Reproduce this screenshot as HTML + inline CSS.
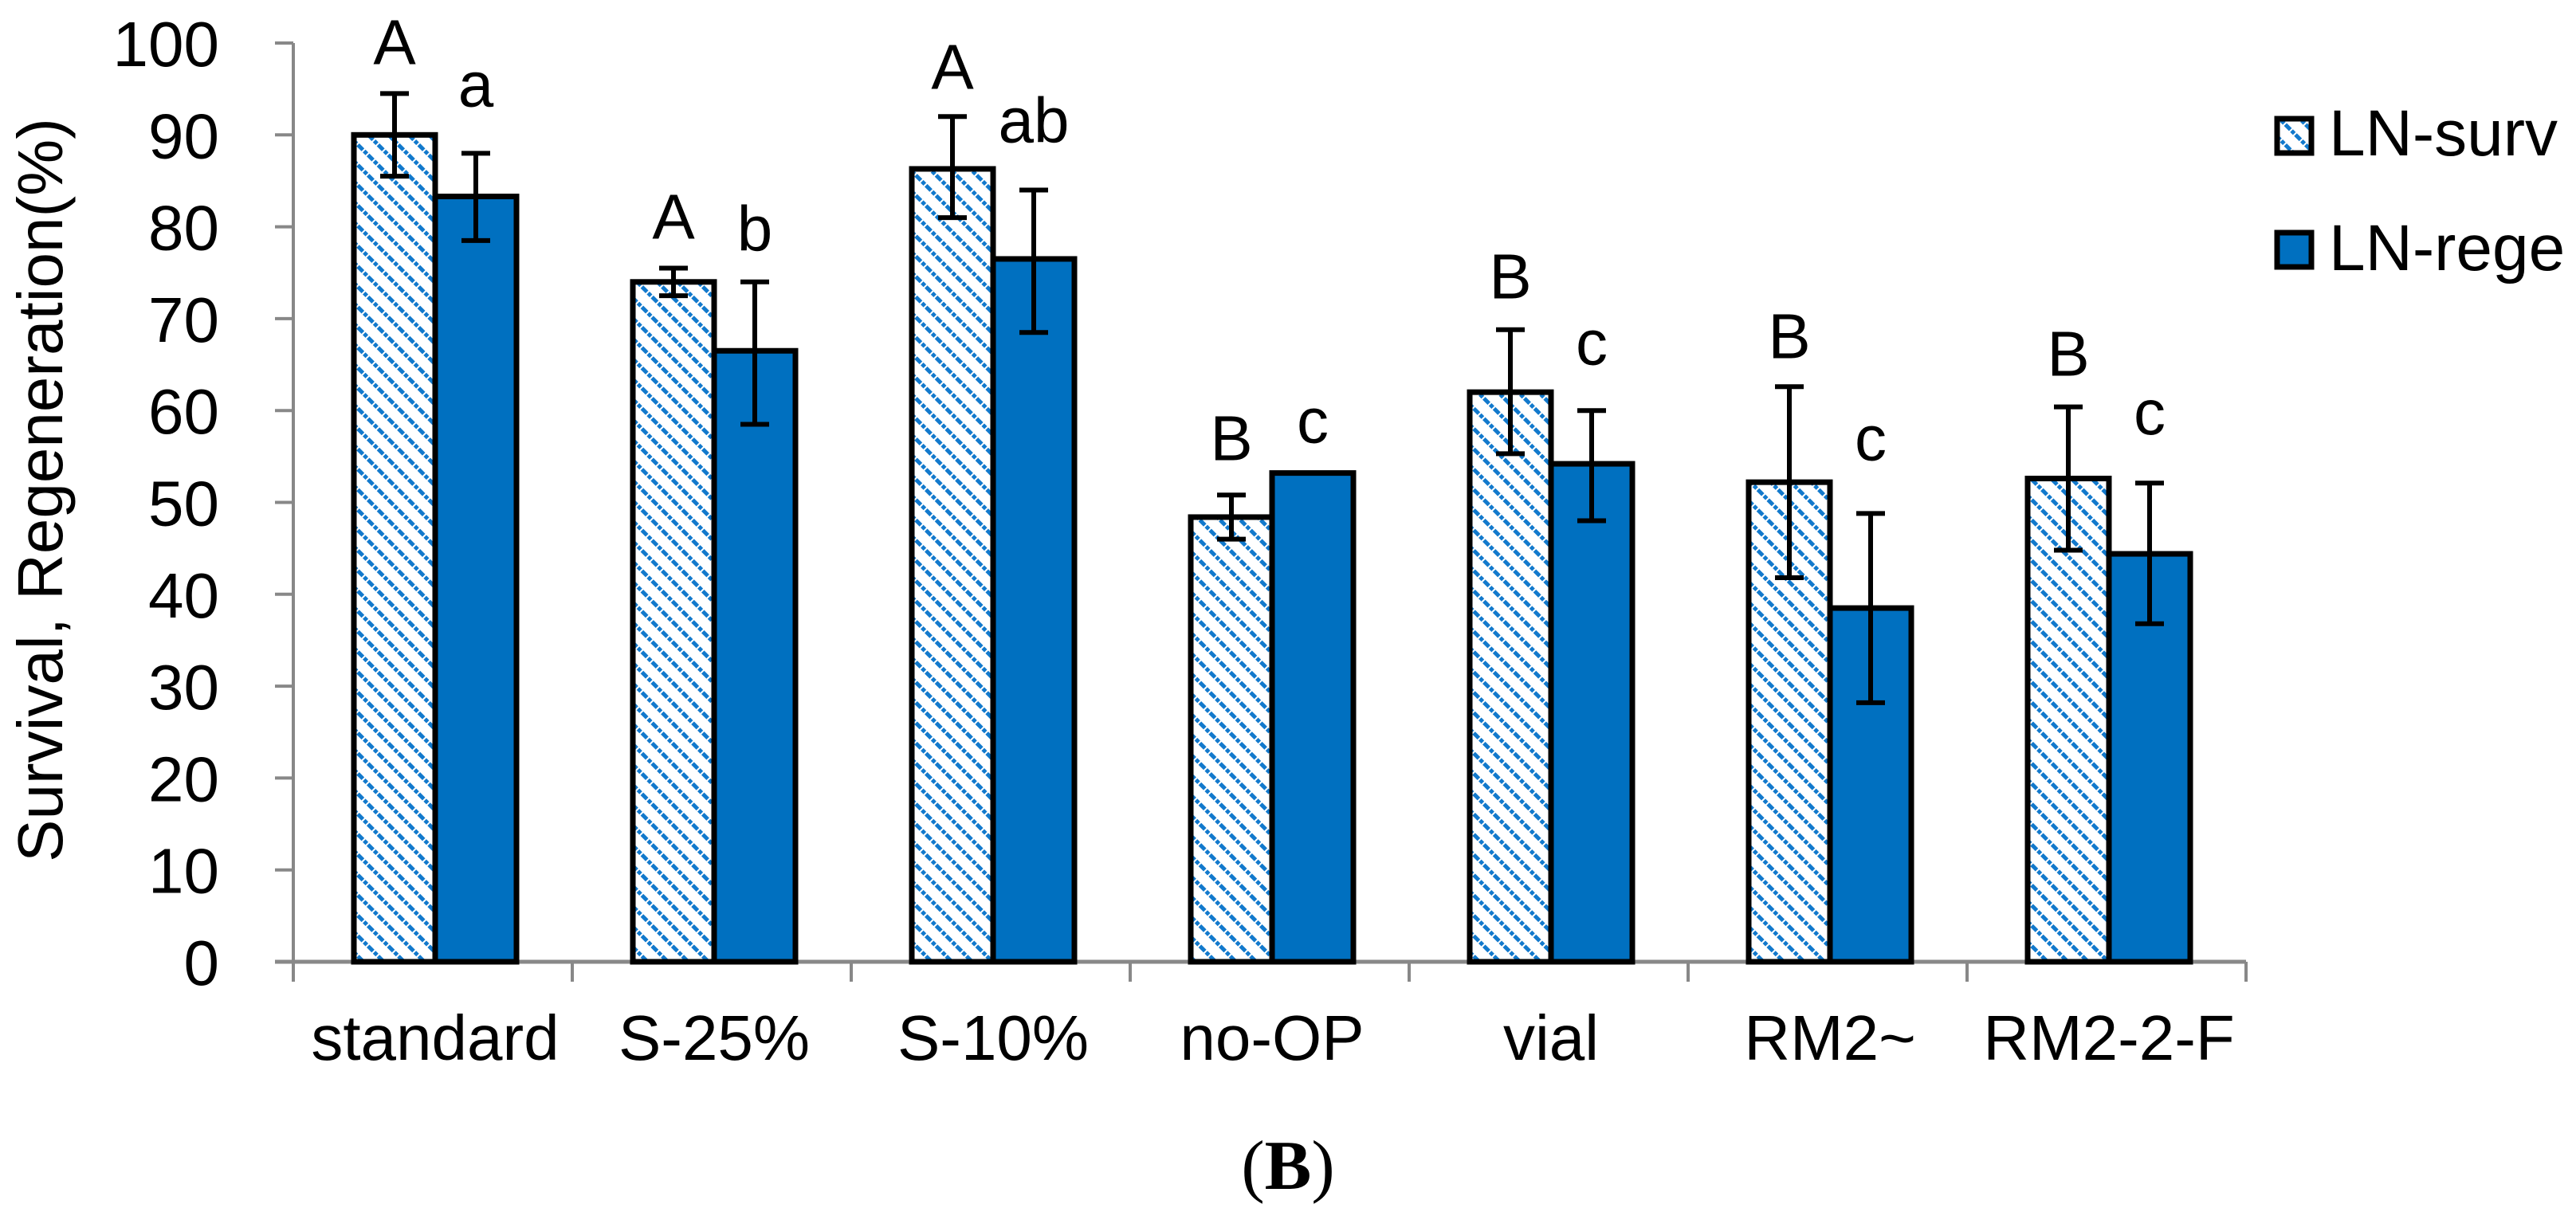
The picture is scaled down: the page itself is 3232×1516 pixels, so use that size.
<!DOCTYPE html>
<html><head><meta charset="utf-8">
<style>
html,body{margin:0;padding:0;background:#fff;}
svg{display:block;}
text{font-family:"Liberation Sans",Arial,sans-serif;fill:#000;}
</style></head>
<body>
<svg id="chart" width="3232" height="1516" viewBox="0 0 3232 1516" xmlns="http://www.w3.org/2000/svg">
<defs>
<pattern id="hatch" patternUnits="userSpaceOnUse" width="18" height="18" patternTransform="rotate(45)">
<rect width="18" height="18" fill="#fff"/>
<line x1="0" y1="9" x2="18" y2="9" stroke="#1279cc" stroke-width="5" stroke-dasharray="5 2"/>
</pattern>
</defs>
<g id="axes"></g>
<g id="bars"></g>
<g id="labels"></g>
<text x="0" y="0" transform="translate(78,615) rotate(-90)" font-size="80" text-anchor="middle">Survival, Regeneration(%)</text>
<g>
<rect x="2857" y="149" width="43" height="43" fill="url(#hatch)" stroke="#000" stroke-width="7"/>
<text x="2922" y="195" font-size="82">LN-surv</text>
<rect x="2857" y="292" width="43" height="43" fill="#0070c0" stroke="#000" stroke-width="7"/>
<text x="2922" y="339" font-size="82">LN-rege</text>
</g>
<text x="1616" y="1492" font-size="88" text-anchor="middle" style="font-family:'Liberation Serif',serif">(<tspan font-weight="bold">B</tspan>)</text>
</svg>
<script>
const categories = ["standard","S-25%","S-10%","no-OP","vial","RM2~","RM2-2-F"];
const survValues = [90.0,74.0,86.3,48.4,62.0,52.2,52.6];
const survErrHigh = [94.5,75.5,92.0,50.8,68.8,62.6,60.4];
const survErrLow = [85.5,72.5,81.0,46.0,55.3,41.8,44.8];
const regeValues = [83.3,66.5,76.5,53.2,54.2,38.5,44.4];
const regeErrHigh = [88.0,74.0,84.0,null,60.0,48.8,52.1];
const regeErrLow = [78.5,58.5,68.5,null,48.0,28.2,36.8];
const survLetters = ["A","A","A","B","B","B","B"];
const regeLetters = ["a","b","ab","c","c","c","c"];
const survLetterY = [97.7,78.7,95.0,54.6,72.2,65.7,63.8];
const regeLetterY = [93.1,77.4,89.2,56.5,65.0,54.6,57.4];
const yTicks = [0,10,20,30,40,50,60,70,80,90,100];

const NS="http://www.w3.org/2000/svg";
const X0=368, SP=350, Y0=1207, PXU=11.53, BW=102;
function yScale(v){return Y0 - v*PXU;}
function xCenter(i){return X0 + SP*(i+0.5) + 3;}
function mk(tag,attrs,parent){const e=document.createElementNS(NS,tag);for(const k in attrs)e.setAttribute(k,attrs[k]);parent.appendChild(e);return e;}
const axes=document.getElementById('axes'), bars=document.getElementById('bars'), labels=document.getElementById('labels');

let yl=mk('line',{x1:X0,y1:yScale(100),x2:X0,y2:Y0+24,stroke:'#888',"stroke-width":4},axes);


yTicks.forEach(t=>{
  const tk=mk('line',{x1:X0-23,y1:yScale(t),x2:X0,y2:yScale(t),stroke:'#888',"stroke-width":4},axes);
  
  
  const tx=mk('text',{x:275,y:yScale(t)+29,"font-size":80,"text-anchor":"end"},axes);
  tx.textContent=t;
  
  
});

categories.forEach((c,i)=>{
  const cx=xCenter(i);
  const s=mk('rect',{x:cx-BW,y:yScale(survValues[i]),width:BW,height:Y0-yScale(survValues[i]),fill:'url(#hatch)',stroke:'#000',"stroke-width":7},bars);
  
  
  const r=mk('rect',{x:cx,y:yScale(regeValues[i]),width:BW,height:Y0-yScale(regeValues[i]),fill:'#0070c0',stroke:'#000',"stroke-width":7},bars);
  
  
  [[cx-BW/2,survErrHigh[i],survErrLow[i],'surv'],[cx+BW/2,regeErrHigh[i],regeErrLow[i],'rege']].forEach(([ex,hi,lo,nm])=>{
    if(hi==null)return;
    const g=mk('g',{stroke:'#000',"stroke-width":6},bars);
    
    
    mk('line',{x1:ex,y1:yScale(hi),x2:ex,y2:yScale(lo)},g);
    mk('line',{x1:ex-18,y1:yScale(hi),x2:ex+18,y2:yScale(hi)},g);
    mk('line',{x1:ex-18,y1:yScale(lo),x2:ex+18,y2:yScale(lo)},g);
  });
  const ls=mk('text',{x:cx-BW/2,y:yScale(survLetterY[i]),"font-size":80,"text-anchor":"middle"},labels);
  ls.textContent=survLetters[i];
  
  
  const lr=mk('text',{x:cx+BW/2,y:yScale(regeLetterY[i]),"font-size":80,"text-anchor":"middle"},labels);
  lr.textContent=regeLetters[i];
  
  
  const xl=mk('text',{x:cx,y:1330,"font-size":80,"text-anchor":"middle"},labels);
  xl.textContent=c;
  
  
});
let xa=mk('line',{x1:345,y1:Y0,x2:X0+SP*categories.length,y2:Y0,stroke:'#888',"stroke-width":5},axes);


for(let i=0;i<=categories.length;i++){
  const t=mk('line',{x1:X0+SP*i,y1:Y0,x2:X0+SP*i,y2:Y0+25,stroke:'#888',"stroke-width":4},axes);
  
  
}
</script>
</body></html>
